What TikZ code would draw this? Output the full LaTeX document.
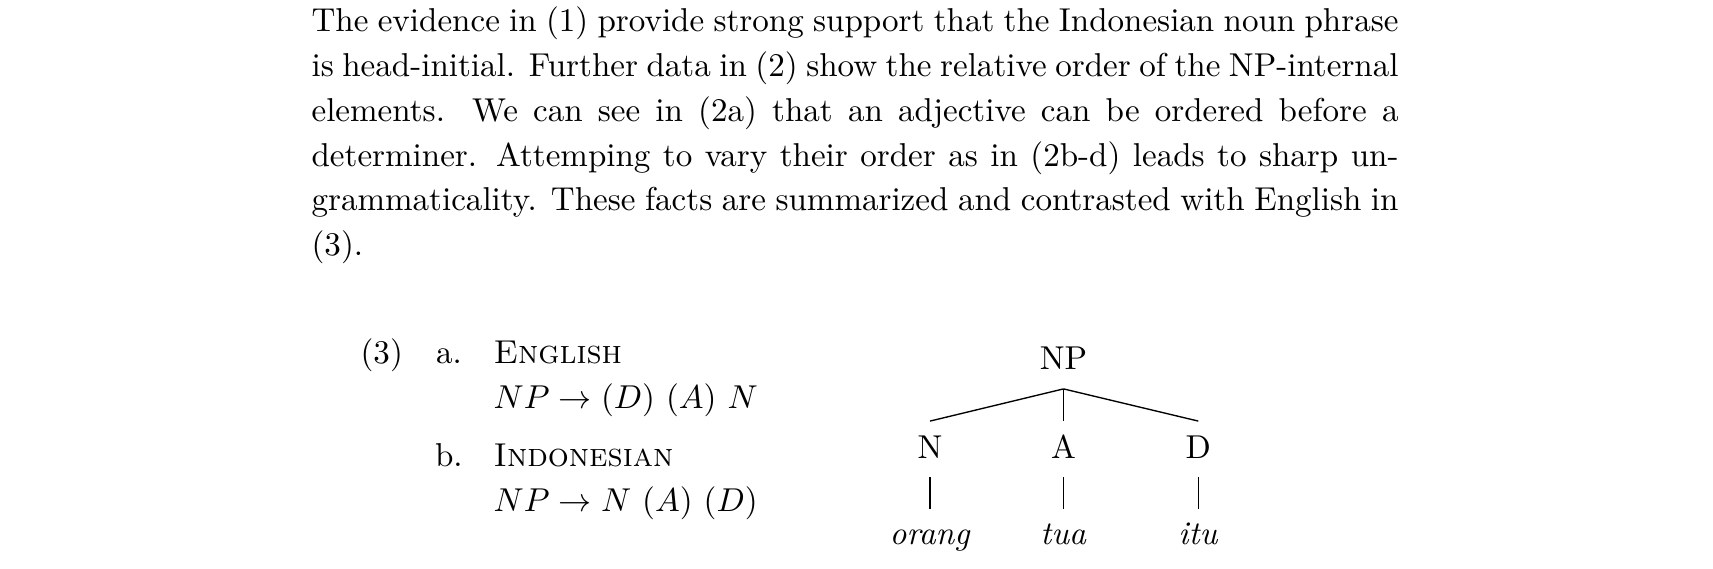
\documentclass[tikz,border=0pt]{standalone}
\begin{document}
\begin{tikzpicture}[x=0.33119pt,y=-0.33119pt,
  every node/.style={font=\fontsize{10.95pt}{14.84pt}\selectfont},
  txt/.style={inner sep=0pt,anchor=base west},
  phrase/.style={inner xsep=0pt,inner ysep=6.06pt,text depth=0pt,anchor=base},
  cat/.style={inner xsep=0pt,inner ysep=4.64pt,text height=7.48pt,text depth=1.45pt,anchor=base},
  leaf/.style={inner xsep=0pt,inner ysep=4.64pt,text height=6.96pt,anchor=base},
  branch/.style={line width=0.45pt}]
\useasboundingbox (0,0) rectangle (1713,569);
\node[txt] (para) at (311,31.7) {\parbox[t]{360pt}{\fontsize{10.95pt}{14.84pt}\selectfont
The evidence in (1) provide strong support that the Indonesian noun phrase\linebreak
is head-initial. Further data in (2) show the relative order of the NP-internal\linebreak
elements. We can see in (2a) that an adjective can be ordered before a\linebreak
determiner. Attemping to vary their order as in (2b-d) leads to sharp un-\linebreak
grammaticality. These facts are summarized and contrasted with English in\linebreak
(3).}};
\node[txt] (ex) at (360,364) {(3)};
\node[txt] (la) at (435.6,364) {a.};
\node[txt] (en) at (493,364) {\textsc{English}};
\node[txt] (ra) at (493,408.8) {$NP \rightarrow (D)\ (A)\ N$};
\node[txt] (lb) at (434.5,466.7) {b.};
\node[txt] (id) at (493,466.7) {\textsc{Indonesian}};
\node[txt] (rb) at (493,511.5) {$NP \rightarrow N\ (A)\ (D)$};
\node[phrase] (NP) at (1063.5,370) {NP};
\node[cat] (N) at (930,458.3) {N};
\node[cat] (A) at (1063.5,458.3) {A};
\node[cat] (D) at (1198.3,458.3) {D};
\node[leaf] (orang) at (930,545) {\textit{orang}};
\node[leaf] (tua) at (1063.5,545) {\textit{tua}};
\node[leaf] (itu) at (1198.3,545) {\textit{itu}};
\draw[branch] (NP.south) -- (N.north);
\draw[branch] (NP.south) -- (A.north);
\draw[branch] (NP.south) -- (D.north);
\draw[branch] (N.south) -- (orang.north);
\draw[branch] (A.south) -- (tua.north);
\draw[branch] (D.south) -- (itu.north);
\end{tikzpicture}
\end{document}
